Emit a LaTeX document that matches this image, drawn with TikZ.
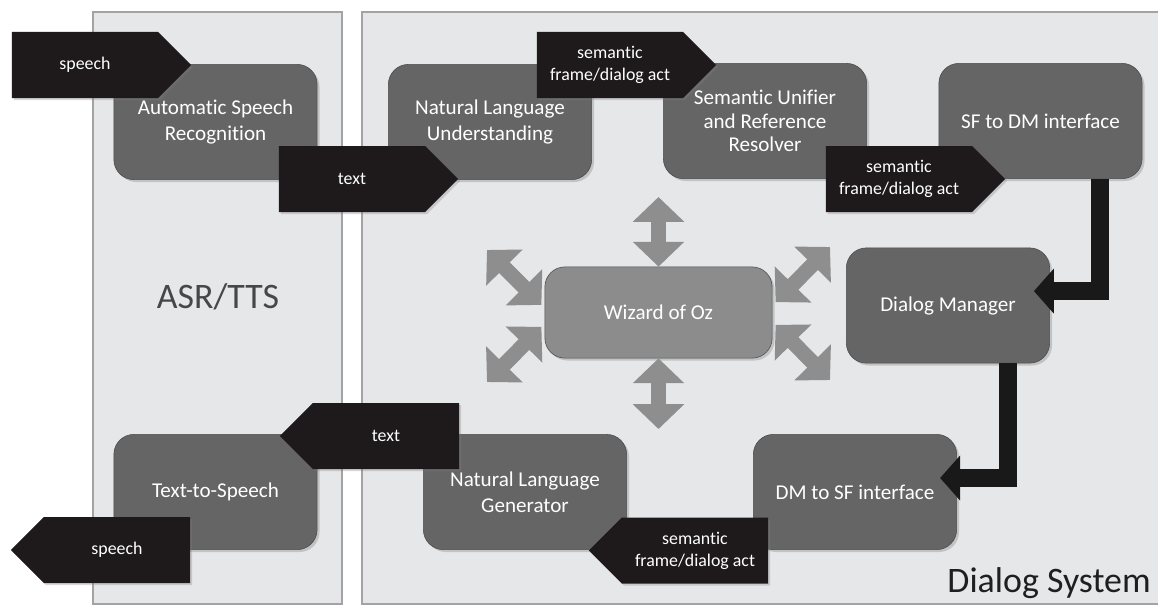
\documentclass[tikz,border=0pt]{standalone}
\usepackage{fontspec}
\setmainfont[Ligatures=NoCommon]{Carlito}
\usetikzlibrary{shapes.symbols,arrows.meta,shadows}
\definecolor{panelgrey}{HTML}{E6E7E9}
\definecolor{panelline}{HTML}{A3A3A5}
\definecolor{modgrey}{HTML}{656565}
\definecolor{wizgrey}{HTML}{8C8C8C}
\definecolor{taggrey}{HTML}{1E1A1B}
\definecolor{arrowgrey}{HTML}{8E8E8E}

\begin{document}
\begin{tikzpicture}[x=0.025cm, y=-0.025cm,
  module/.style={draw=black!70, fill=modgrey, rounded corners=0.5cm, minimum width=5.08cm, minimum height=2.88cm, align=center, text=white, font=\fontsize{15}{18.5}\selectfont, drop shadow={opacity=0.35, shadow xshift=0.06cm, shadow yshift=-0.06cm}},
  wizard/.style={module, fill=wizgrey, minimum width=5.68cm, minimum height=2.28cm},
  tagright/.style={signal, signal to=east, fill=taggrey, text=white, align=center, minimum width=4.48cm, minimum height=1.65cm, inner sep=0pt, font=\fontsize{12.7}{15.6}\selectfont, drop shadow={opacity=0.3, shadow xshift=0.05cm, shadow yshift=-0.05cm}},
  tagleft/.style={tagright, signal to=west},
  flow/.style={line width=0.45cm, draw=black!90, -{Triangle[length=0.5cm, width=1.1cm]}},
  wizarrow/.style={line width=0.375cm, draw=arrowgrey, {Triangle[length=0.62cm, width=1.25cm]}-{Triangle[length=0.62cm, width=1.25cm]}},
  panel/.style={fill=panelgrey, draw=panelline, line width=0.8pt}]
\useasboundingbox (0,0) rectangle (1158,608);
\fill[white] (0,0) rectangle (1158,608);
\draw[panel] (93,12) rectangle (342,604);
\draw[panel] (362,12) rectangle (1164,604);

\node[module] (asr) at (215.5,122) {Automatic Speech\\Recognition};
\node[module] (nlu) at (490,122) {Natural Language\\Understanding};
\node[module, font=\fontsize{15}{16.8}\selectfont] (sur) at (765,121) {Semantic Unifier\\and Reference\\Resolver};
\node[module] (sfdm) at (1040.5,121) {SF to DM interface};
\node[module] (dm) at (948,305.5) {Dialog Manager};
\node[module] (dmsf) at (855,492) {DM to SF interface};
\node[module] (nlg) at (525,492) {Natural Language\\Generator};
\node[module] (tts) at (215.5,492) {Text-to-Speech};
\node[wizard] (wiz) at (658.5,312.5) {Wizard of Oz};

\node[tagright] (speechin) at (85,65) {speech};
\node[tagright] (textin) at (352,179) {text};
\node[tagright] (sfa) at (610,65) {semantic\\frame/dialog act};
\node[tagright] (sfb) at (899,179) {semantic\\frame/dialog act};
\node[tagleft] (textout) at (386,436) {text};
\node[tagleft] (speechout) at (117,550) {speech};
\node[tagleft] (sfc) at (695,550.5) {semantic\\frame/dialog act};

\draw[flow] ([xshift=1.49cm]sfdm.south) |- ([xshift=-0.4cm,yshift=0.36cm]dm.east);
\draw[flow] ([xshift=1.5cm]dm.south) |- ([xshift=-0.42cm,yshift=0.35cm]dmsf.east);

\coordinate (wtop) at (658.5,197);
\coordinate (wbot) at (658.5,429);
\coordinate (wul) at (487,250);
\coordinate (wll) at (487,382);
\coordinate (wur) at (830,247);
\coordinate (wlr) at (830,380);
\draw[wizarrow] (wtop) -- (wiz.north);
\draw[wizarrow] (wiz.south) -- (wbot);
\draw[wizarrow] (wul) -- ([xshift=-0.08cm,yshift=0.19cm]wiz.west);
\draw[wizarrow] (wll) -- ([xshift=-0.08cm,yshift=-0.36cm]wiz.west);
\draw[wizarrow] (wur) -- ([xshift=0.08cm,yshift=0.26cm]wiz.east);
\draw[wizarrow] (wlr) -- ([xshift=0.08cm,yshift=-0.31cm]wiz.east);

\node[text=black!72, font=\fontsize{25.5}{30}\selectfont] (asrlabel) at (218,297) {ASR/TTS};
\node[anchor=east, inner sep=0pt, text=black!88, font=\fontsize{25.5}{30}\selectfont] (dslabel) at (1151,583) {Dialog System};
\end{tikzpicture}
\end{document}
